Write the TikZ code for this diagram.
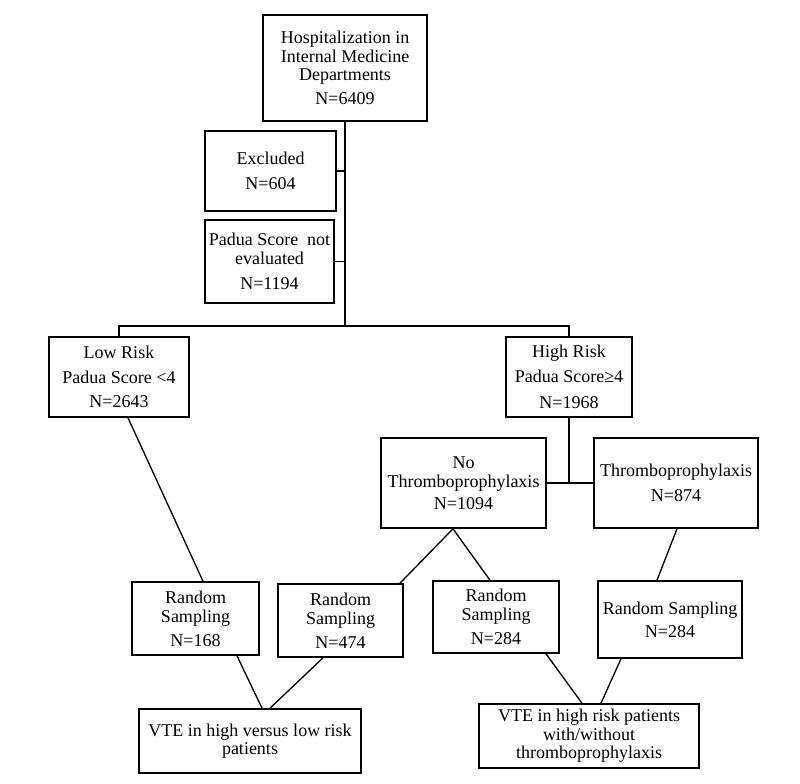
\documentclass[tikz,border=0pt]{standalone}
\usepackage{fontspec}
\setmainfont{Liberation Serif}
\begin{document}
\begin{tikzpicture}[x=0.75pt,y=-0.75pt,
  box/.style={draw, line width=1.2pt, inner sep=0pt, align=center,
    font=\fontsize{13.5}{14}\selectfont},
  conn/.style={line width=1pt},
  trunk/.style={line width=1.5pt}]
\useasboundingbox (0,0) rectangle (800,783);
\node[box, minimum width=123pt, minimum height=79.5pt] (top) at (345,68)
  {Hospitalization in\\Internal Medicine\\Departments\\[4pt]N=6409};
\node[box, minimum width=98.25pt, minimum height=60pt] (excl) at (270.5,171)
  {Excluded\\[4.5pt]N=604};
\node[box, minimum width=96.75pt, minimum height=62.25pt] (padua) at (269.5,261.5)
  {Padua Score~ not\\evaluated\\[4.5pt]N=1194};
\node[box, minimum width=105pt, minimum height=60pt] (low) at (119,377)
  {Low Risk\\[4.5pt]Padua Score <4\\[4pt]N=2643};
\node[box, minimum width=94.5pt, minimum height=60pt] (high) at (569,377)
  {High Risk\\[4.5pt]Padua Score≥4\\[5.5pt]N=1968};
\node[box, minimum width=123.75pt, minimum height=67.5pt] (nothrom) at (463.5,483)
  {No\\Thromboprophylaxis\\[2.5pt]N=1094};
\node[box, minimum width=123pt, minimum height=67.5pt] (throm) at (676,483)
  {Thromboprophylaxis\\[4.5pt]N=874};
\node[box, minimum width=95.25pt, minimum height=54.75pt] (r168) at (195.5,618.5)
  {Random\\Sampling\\[4pt]N=168};
\node[box, minimum width=93.75pt, minimum height=54.75pt] (r474) at (340.5,620.5)
  {Random\\Sampling\\[4pt]N=474};
\node[box, minimum width=94.5pt, minimum height=54pt] (r284a) at (496,617)
  {Random\\Sampling\\[4pt]N=284};
\node[box, minimum width=108pt, minimum height=57.75pt] (r284b) at (670,619.5)
  {Random Sampling\\[3.5pt]N=284};
\node[box, minimum width=166.5pt, minimum height=48pt] (vteL) at (250,741)
  {VTE in high versus low risk\\patients};
\node[box, minimum width=165pt, minimum height=48pt] (vteR) at (589,736)
  {VTE in high risk patients\\with/without\\thromboprophylaxis};
\coordinate (j1) at (345,326);
\coordinate (j2) at (569,483);
\draw[trunk] (top.south) -- (j1);
\draw[conn] (excl.east) -- (excl.east -| top.south);
\draw[conn] (padua.east) -- (padua.east -| top.south);
\draw[conn] (low.north) |- (j1) -| (high.north);
\draw[trunk] (high.south) -- (j2);
\draw[conn] (nothrom.east) -- (throm.west);
\draw[conn] ([xshift=6.75pt]low.south) -- ([xshift=5.6pt]r168.north);
\draw[conn] ([xshift=-7.9pt]nothrom.south) -- ([xshift=44.6pt]r474.north);
\draw[conn] ([xshift=-7.9pt]nothrom.south) -- ([xshift=-4.5pt]r284a.north);
\draw[conn] ([xshift=0.75pt]throm.south) -- ([xshift=-9.75pt]r284b.north);
\draw[conn] ([xshift=31.1pt]r168.south) -- ([xshift=9pt]vteL.north);
\draw[conn] ([xshift=-13.1pt]r474.south) -- ([xshift=15pt]vteL.north);
\draw[conn] ([xshift=37.5pt]r284a.south) -- ([xshift=-5.25pt]vteR.north);
\draw[conn] ([xshift=-36.75pt]r284b.south) -- ([xshift=9pt]vteR.north);
\end{tikzpicture}
\end{document}
